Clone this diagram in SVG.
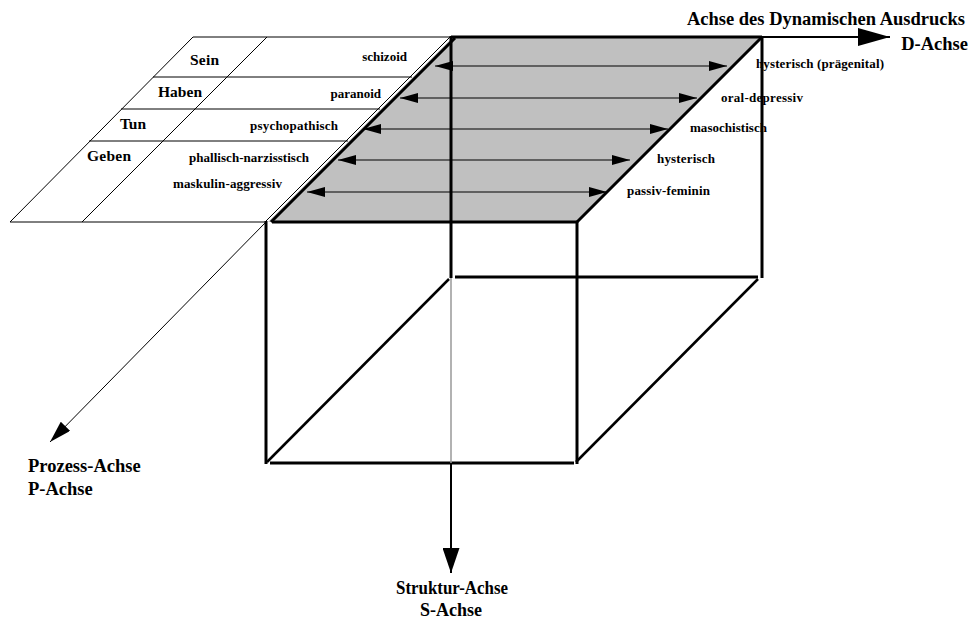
<svg xmlns="http://www.w3.org/2000/svg" width="970" height="622" viewBox="0 0 970 622">
<style>
text{font-family:"Liberation Serif","Times New Roman",serif;font-weight:bold;fill:#000}
.ax{font-size:18.5px}
.row{font-size:15.5px}
.lb{font-size:13px}
.thin{stroke:#000;stroke-width:1;fill:none}
.edge{stroke:#000;stroke-width:3;fill:none}
.arr{stroke:#000;stroke-width:1;fill:none}
</style>
<defs>
<marker id="ah" markerUnits="userSpaceOnUse" markerWidth="18" markerHeight="10" refX="18" refY="5" orient="auto-start-reverse">
<path d="M0,0 L18,5 L0,10 z" fill="#000"/>
</marker>
<marker id="ahD" markerUnits="userSpaceOnUse" markerWidth="32" markerHeight="18" refX="32" refY="9" orient="auto">
<path d="M0,0 L32,9 L0,18 z" fill="#000"/>
</marker>
<marker id="ahS" markerUnits="userSpaceOnUse" markerWidth="25" markerHeight="17" refX="25" refY="8.5" orient="auto">
<path d="M0,0 L25,8.5 L0,17 z" fill="#000"/>
</marker>
<marker id="ahP" markerUnits="userSpaceOnUse" markerWidth="22" markerHeight="13" refX="22" refY="6.5" orient="auto">
<path d="M0,0 L22,6.5 L0,13 z" fill="#000"/>
</marker>
</defs>

<g id="p-plane">
<line class="thin" x1="193" y1="37" x2="451" y2="37"/>
<line class="thin" x1="153" y1="77" x2="412" y2="77"/>
<line class="thin" x1="121" y1="109" x2="380" y2="109"/>
<line class="thin" x1="89" y1="141" x2="348" y2="141"/>
<line class="thin" x1="10" y1="222" x2="266" y2="222"/>
<line class="thin" x1="193" y1="37" x2="10" y2="222"/>
<line class="thin" x1="267" y1="37" x2="82" y2="222"/>
<line class="thin" x1="450" y1="37" x2="265" y2="222"/>
<text class="row" x="190" y="65" textLength="29" lengthAdjust="spacing">Sein</text>
<text class="row" x="158" y="97" textLength="44" lengthAdjust="spacing">Haben</text>
<text class="row" x="120" y="129" textLength="26" lengthAdjust="spacing">Tun</text>
<text class="row" x="87" y="161" textLength="44" lengthAdjust="spacing">Geben</text>
</g>

<g id="top-face">
<polygon points="453,37 762,37 577,222 268,222" fill="#c0c0c0"/>
<line class="edge" x1="451" y1="37" x2="762" y2="37"/>
<line class="edge" x1="762" y1="37" x2="577" y2="222"/>
<line class="edge" x1="455" y1="38" x2="271" y2="222"/>
<line class="edge" x1="272" y1="222" x2="577" y2="222"/>
</g>

<g id="cube">
<line class="edge" x1="266" y1="221" x2="266" y2="464"/>
<line class="edge" x1="577" y1="221" x2="577" y2="464"/>
<line class="edge" x1="270" y1="463" x2="574" y2="463"/>
<line class="edge" x1="451" y1="36" x2="451" y2="278"/>
<line class="edge" x1="762" y1="36" x2="762" y2="278"/>
<line class="edge" x1="455" y1="277" x2="758" y2="277"/>
<line stroke="#000" stroke-width="2.5" x1="449" y1="279" x2="267" y2="462"/>
<line stroke="#000" stroke-width="2.5" x1="758" y1="279" x2="576" y2="462"/>
</g>

<g id="connectors">
<line class="arr" x1="435" y1="66" x2="727" y2="66" marker-start="url(#ah)" marker-end="url(#ah)"/>
<line class="arr" x1="400" y1="98" x2="697" y2="98" marker-start="url(#ah)" marker-end="url(#ah)"/>
<line class="arr" x1="363" y1="129" x2="668" y2="129" marker-start="url(#ah)" marker-end="url(#ah)"/>
<line class="arr" x1="338" y1="160" x2="630" y2="160" marker-start="url(#ah)" marker-end="url(#ah)"/>
<line class="arr" x1="307" y1="192" x2="607" y2="192" marker-start="url(#ah)" marker-end="url(#ah)"/>
<line stroke="#000" stroke-width="2" x1="762" y1="37" x2="890" y2="37" marker-end="url(#ahD)"/>
<line stroke="#999" stroke-width="1.5" x1="451" y1="278" x2="451" y2="463"/>
<line stroke="#000" stroke-width="2" x1="451" y1="463" x2="451" y2="573" marker-end="url(#ahS)"/>
<line stroke="#000" stroke-width="1" x1="266" y1="222" x2="50" y2="442" marker-end="url(#ahP)"/>
</g>

<g id="type-labels">
<text class="lb" x="407" y="61" text-anchor="end">schizoid</text>
<text class="lb" x="381" y="98" text-anchor="end">paranoid</text>
<text class="lb" x="250" y="130" textLength="88" lengthAdjust="spacing">psychopathisch</text>
<text class="lb" x="189" y="162" textLength="120" lengthAdjust="spacing">phallisch-narzisstisch</text>
<text class="lb" x="173" y="188" textLength="109" lengthAdjust="spacing">maskulin-aggressiv</text>
<text class="lb" x="756" y="68" textLength="128" lengthAdjust="spacing">hysterisch (prägenital)</text>
<text class="lb" x="721" y="102" textLength="82" lengthAdjust="spacing">oral-depressiv</text>
<text class="lb" x="690" y="132" textLength="77" lengthAdjust="spacing">masochistisch</text>
<text class="lb" x="657" y="163" textLength="58" lengthAdjust="spacing">hysterisch</text>
<text class="lb" x="627" y="195" textLength="83" lengthAdjust="spacing">passiv-feminin</text>
</g>

<g id="axis-labels">
<text class="ax" x="965" y="25" text-anchor="end">Achse des Dynamischen Ausdrucks</text>
<text class="ax" x="968" y="50" text-anchor="end">D-Achse</text>
<text class="ax" x="28" y="472">Prozess-Achse</text>
<text class="ax" x="28" y="495">P-Achse</text>
<text class="ax" x="396" y="594" textLength="112" lengthAdjust="spacingAndGlyphs">Struktur-Achse</text>
<text class="ax" x="420" y="616" textLength="62" lengthAdjust="spacingAndGlyphs">S-Achse</text>
</g>
</svg>
